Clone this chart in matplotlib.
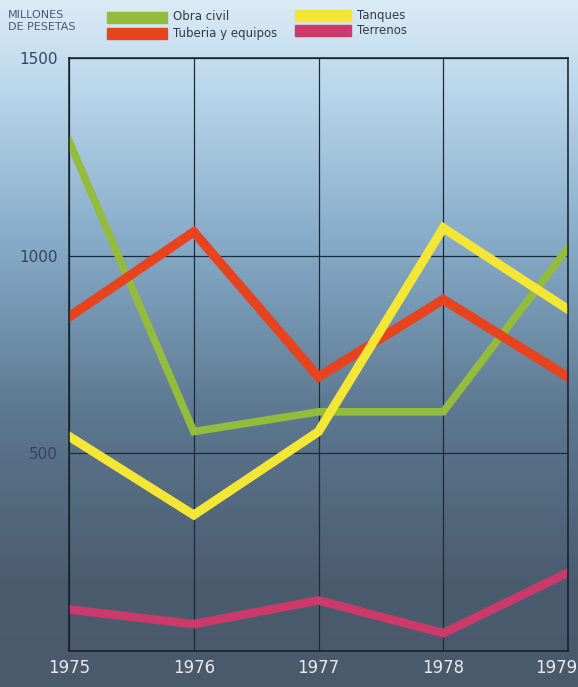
import numpy as np
import matplotlib.pyplot as plt
from matplotlib.colors import LinearSegmentedColormap

# Data (millones de pesetas)
years = [1975, 1976, 1977, 1978, 1979]
obra_civil = [1290, 555, 605, 605, 1020]
tuberia = [845, 1060, 693, 889, 693]
tanques = [543, 344, 555, 1070, 864]
terrenos = [105, 68, 128, 45, 198]

y_ticks = [500, 1000, 1500]

fig = plt.figure(figsize=(5.78, 6.87), dpi=100)

# background gradient, light blue at top to slate at bottom
bg = fig.add_axes([0, 0, 1, 1], zorder=0)
bg_cmap = LinearSegmentedColormap.from_list(
    'bg', [(0.0, '#dbebf6'), (0.12, '#bcd8ec'), (0.35, '#86abc8'),
           (0.6, '#5d7890'), (0.85, '#4b5c6f'), (1.0, '#4a5a6b')])
grad = np.linspace(0, 1, 256).reshape(-1, 1)
bg.imshow(grad, aspect='auto', cmap=bg_cmap, extent=[0, 1, 0, 1])
bg.set_axis_off()

ax = fig.add_axes([69 / 578, 36 / 687, 499 / 578, 593 / 687], zorder=1)
ax.patch.set_alpha(0)

ax.plot(years, obra_civil, color='#93bb3c', lw=5.5, solid_joinstyle='miter')
ax.plot(years, tuberia, color='#e8431f', lw=6.8, solid_joinstyle='miter')
ax.plot(years, tanques, color='#f3e635', lw=6.5, solid_joinstyle='miter')
ax.plot(years, terrenos, color='#cc3a6c', lw=6.2, solid_joinstyle='miter')

ax.set_xlim(1975, 1979)
ax.set_ylim(0, 1500)
ax.set_xticks(years)
ax.set_yticks(y_ticks)
ax.grid(True, color='#1c2a3a', lw=0.9)
ax.set_axisbelow(True)
for s in ax.spines.values():
    s.set_color('#141e2a')
    s.set_linewidth(1.1)
ax.tick_params(length=0, pad=8)
ax.tick_params(axis='y', labelsize=11, labelcolor='#33465e')
ax.tick_params(axis='x', labelsize=12, labelcolor='#e6eaf0', pad=6)
# last year label sits against the right edge
ax.get_xticklabels()[-1].set_horizontalalignment('right')
ax.get_xticklabels()[-1].set_x(1979)
for lbl in ax.get_xticklabels()[-1:]:
    lbl.set_transform(lbl.get_transform() + plt.matplotlib.transforms.ScaledTranslation(
        9 / 100, 0, fig.dpi_scale_trans))

# header and legend
fig.text(8 / 578, 1 - 21 / 687, 'MILLONES\nDE PESETAS', fontsize=8,
         color='#4b5a6a', va='center', linespacing=1.3)
legend_items = [
    ('Obra civil', '#93bb3c', 107, 17),
    ('Tuberia y equipos', '#e8431f', 107, 33),
    ('Tanques', '#f3e635', 295, 15),
    ('Terrenos', '#cc3a6c', 295, 30),
]
for label, col, x0, yc in legend_items:
    w = 60 if x0 < 200 else 56
    fig.patches.append(plt.Rectangle((x0 / 578, 1 - (yc + 5.5) / 687), w / 578, 11 / 687,
                                     transform=fig.transFigure, color=col, zorder=2))
    fig.text((x0 + w + 6) / 578, 1 - yc / 687, label, fontsize=8.5, color='#333a44',
             va='center')

fig.savefig('out.png', dpi=100)
